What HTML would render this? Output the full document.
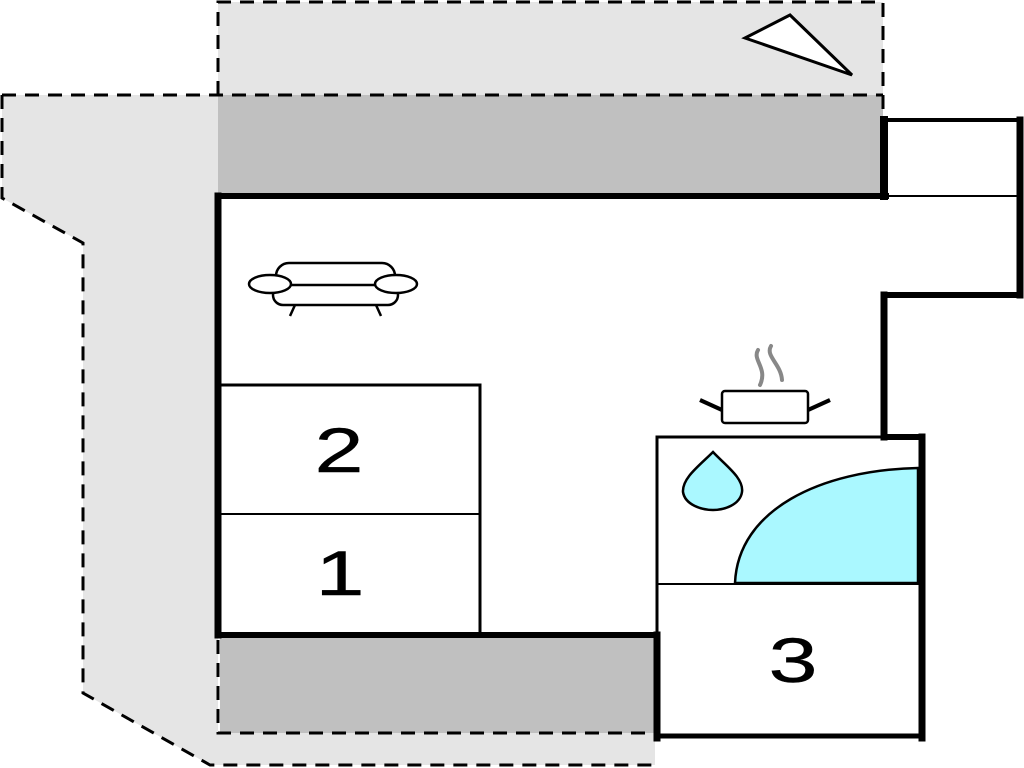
<!DOCTYPE html>
<html><head><meta charset="utf-8"><style>html,body{margin:0;padding:0;background:#fff}svg{display:block}</style></head>
<body>
<svg width="1024" height="768" viewBox="0 0 1024 768" xmlns="http://www.w3.org/2000/svg">
<rect x="218" y="2" width="665" height="93" fill="#e5e5e5"/>
<polygon points="2,95 218,95 218,765 655,765 655,733 210,765 83,693 83,243 2,198" fill="#e5e5e5"/>
<rect x="210" y="733" width="445" height="32" fill="#e5e5e5"/>
<rect x="218" y="95" width="665" height="100" fill="#c0c0c0"/>
<rect x="220" y="638" width="437" height="95" fill="#c0c0c0"/>
<g fill="none" stroke="#000" stroke-width="3" stroke-dasharray="14,9">
<polyline points="218,95 218,2 883,2 883,118"/>
<line x1="2" y1="95" x2="883" y2="95"/>
<polyline points="2,95 2,118 2,198 83,243 83,693 210,765 655,765"/>
<polyline points="218,640 218,733 655,733"/>
</g>
<polygon points="745,38 790,15 852,75" fill="#fff" stroke="#000" stroke-width="3"/>
<polygon points="218,195 884,195 884,120 1019,120 1019,295 884,295 884,437 921,437 921,736 657,736 657,635 218,635" fill="#fff"/>
<g stroke="#000" fill="none" stroke-linecap="square">
<line x1="218" y1="196" x2="886" y2="196" stroke-width="6"/>
<line x1="218" y1="196" x2="218" y2="635" stroke-width="7"/>
<line x1="218" y1="635" x2="657" y2="635" stroke-width="6"/>
<line x1="657" y1="635" x2="657" y2="738" stroke-width="7"/>
<line x1="657" y1="736" x2="922" y2="736" stroke-width="5"/>
<line x1="922" y1="437" x2="922" y2="738" stroke-width="7"/>
<line x1="884" y1="437" x2="922" y2="437" stroke-width="6"/>
<line x1="884" y1="295" x2="884" y2="437" stroke-width="7"/>
<line x1="884" y1="295" x2="1020" y2="295" stroke-width="6"/>
<line x1="1020" y1="120" x2="1020" y2="295" stroke-width="7"/>
<line x1="884" y1="120" x2="1020" y2="120" stroke-width="4"/>
<line x1="884" y1="120" x2="884" y2="196" stroke-width="8"/>
<line x1="886" y1="196" x2="1020" y2="196" stroke-width="2"/>
<polyline points="220,385 480,385 480,635" stroke-width="3"/>
<line x1="220" y1="514" x2="480" y2="514" stroke-width="2"/>
<polyline points="657,637 657,437 884,437" stroke-width="3"/>
<line x1="657" y1="584" x2="920" y2="584" stroke-width="2"/>
</g>
<path d="M735,583 C738,510 820,470 918,468 L918,583 Z" fill="#aaf8ff" stroke="#000" stroke-width="2.5"/>
<path d="M713,452 C725,465 744,478 742,492 C740,505 724,510 713,510 C702,510 685,505 683,492 C682,478 700,465 713,452 Z" fill="#aaf8ff" stroke="#000" stroke-width="2.5"/>
<g stroke="#000" fill="#fff">
<rect x="722" y="391" width="86" height="32" rx="3" stroke-width="2.5"/>
<line x1="700" y1="400" x2="722" y2="410" stroke-width="4"/>
<line x1="808" y1="410" x2="830" y2="400" stroke-width="4"/>
</g>
<g stroke="#888" fill="none" stroke-width="4" stroke-linecap="round">
<path d="M758,350 C752,360 768,368 760,385"/>
<path d="M771,346 C765,356 781,364 782,380"/>
</g>
<g stroke="#000" fill="#fff" stroke-width="2.5">
<rect x="276" y="263" width="119" height="30" rx="13"/>
<rect x="273" y="285" width="125" height="20" rx="10"/>
<line x1="295" y1="305" x2="290" y2="316"/>
<line x1="376" y1="305" x2="381" y2="316"/>
<ellipse cx="270" cy="284" rx="21" ry="9"/>
<ellipse cx="396" cy="284" rx="21" ry="9"/>
</g>
<g font-family="Liberation Sans, sans-serif" font-size="63" text-anchor="middle" fill="#000" stroke="#000" stroke-width="0.4">
<text transform="translate(339,472) scale(1.4,1)">2</text>
<text transform="translate(340,595) scale(1.4,1)">1</text>
<text transform="translate(793,682) scale(1.4,1)">3</text>
</g>
</svg>
</body></html>
